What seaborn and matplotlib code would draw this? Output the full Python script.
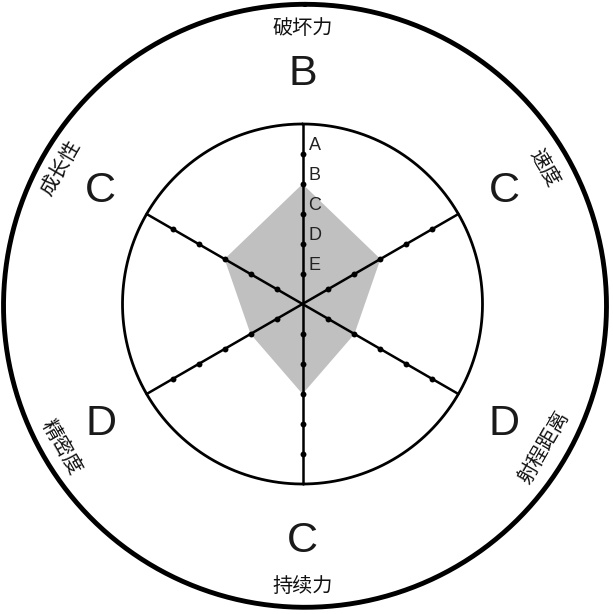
import numpy as np
import pandas as pd
import seaborn as sns
import matplotlib.pyplot as plt
from matplotlib.transforms import offset_copy

# 替身能力参数
categories = ['破坏力', '速度', '射程距离', '持续力', '精密度', '成长性']
grades = ['B', 'C', 'D', 'C', 'D', 'C']
levels = ['E', 'D', 'C', 'B', 'A']  # 1..5

sns.set_style('white')
plt.rcParams['font.family'] = ['Liberation Sans', 'Noto Sans CJK SC', 'DejaVu Sans']

grade_value = {g: i + 1 for i, g in enumerate(levels)}
values = [grade_value[g] for g in grades]
n = len(categories)
angles = np.arange(n) * 2 * np.pi / n

fig = plt.figure(figsize=(6.13, 6.14), dpi=100)
rmax = 10.3
W, H = 613, 614
cx, cy = 302.5, 304
R = rmax * 30
ax = fig.add_axes([(cx - R) / W, (H - cy - R) / H, 2 * R / W, 2 * R / H], projection='polar')
ax.set_theta_zero_location('N')
ax.set_theta_direction(-1)
ax.set_rlim(0, rmax)
ax.set_axis_off()

# 外圈稍微偏右下
outer_tr = offset_copy(ax.transData, fig=fig, x=2.5, y=-1.8, units='dots')
text_tr = offset_copy(ax.transData, fig=fig, x=0, y=-3.5, units='dots')

# 能力多边形
ax.fill(np.append(angles, angles[0]), values + values[:1], color='#c0c0c0', lw=0, zorder=1)

# 轴线与圆
ring = np.linspace(0, 2 * np.pi, 400)
ax.plot(ring, np.full_like(ring, 6), color='black', lw=2.0, zorder=3)
ax.plot(ring, np.full_like(ring, 10.05), color='black', lw=3.5, zorder=3,
        clip_on=False, transform=outer_tr)
for a in angles:
    ax.plot([a, a], [0, 6], color='black', lw=1.8, zorder=3)

# 刻度点
ticks = pd.DataFrame([(a, r) for a in angles for r in range(1, len(levels) + 1)],
                     columns=['theta', 'r'])
sns.scatterplot(data=ticks, x='theta', y='r', ax=ax, color='black', s=18,
                linewidth=0, zorder=4)
ax.set_axis_off()

# 等级刻度标签
for i, lv in enumerate(levels):
    ax.annotate(lv, xy=(0, i + 1), xytext=(9, 6), textcoords='offset points',
                ha='center', va='center', fontsize=13, color='#222222', zorder=5)

# 类别与评级
for a, cat, g in zip(angles, categories, grades):
    deg = np.degrees(a)
    rot = -deg if (deg <= 90 or deg >= 270) else 180 - deg
    ax.text(a, 9.3, cat, rotation=rot, rotation_mode='anchor', ha='center', va='center',
            fontsize=14.5, family=['Noto Sans CJK SC', 'DejaVu Sans'], color='#111111',
            clip_on=False, transform=text_tr)
    ax.text(a, 7.77, g, ha='center', va='center', fontsize=31, color='#1a1a1a',
            clip_on=False, transform=text_tr)

fig.savefig('out.png', dpi=100)
